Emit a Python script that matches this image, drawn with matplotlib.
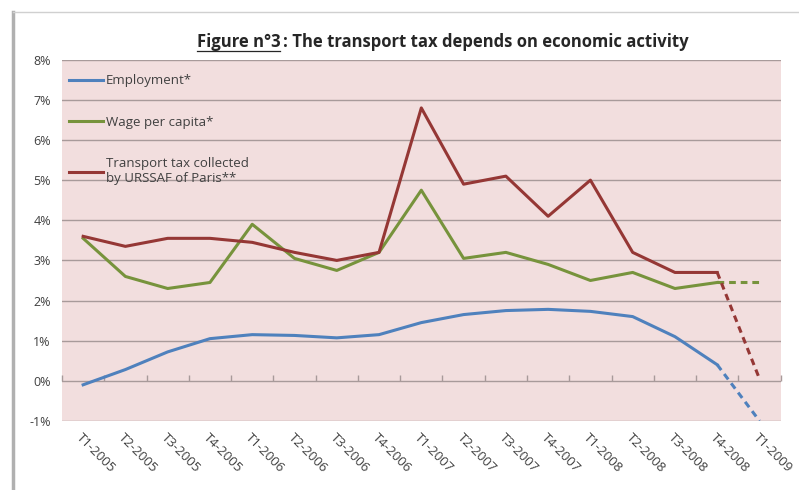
import numpy as np
import matplotlib.pyplot as plt
from matplotlib.lines import Line2D

quarters = ["T1-2005", "T2-2005", "T3-2005", "T4-2005",
            "T1-2006", "T2-2006", "T3-2006", "T4-2006",
            "T1-2007", "T2-2007", "T3-2007", "T4-2007",
            "T1-2008", "T2-2008", "T3-2008", "T4-2008", "T1-2009"]

# % growth, last point (T1-2009) is a forecast -> dashed
employment = [-0.1, 0.28, 0.72, 1.05, 1.15, 1.13, 1.07, 1.15,
              1.45, 1.65, 1.75, 1.78, 1.73, 1.6, 1.1, 0.4, -1.0]
wage = [3.55, 2.6, 2.3, 2.45, 3.9, 3.05, 2.75, 3.2,
        4.75, 3.05, 3.2, 2.9, 2.5, 2.7, 2.3, 2.45, 2.45]
transport_tax = [3.6, 3.35, 3.55, 3.55, 3.45, 3.2, 3.0, 3.2,
                 6.8, 4.9, 5.1, 4.1, 5.0, 3.2, 2.7, 2.7, 0.05]

y_ticks = [-1, 0, 1, 2, 3, 4, 5, 6, 7, 8]

plt.rcParams['font.family'] = ['Open Sans', 'DejaVu Sans']

fig = plt.figure(figsize=(7.99, 4.90), dpi=100)
ax = fig.add_axes([0.0776, 0.141, 0.8994, 0.737])
ax.set_facecolor('#F2DEDE')

series = [
    (employment, '#4F81BD', 'Employment*'),
    (wage, '#77933C', 'Wage per capita*'),
    (transport_tax, '#953735', 'Transport tax collected\nby URSSAF of Paris**'),
]
x = np.arange(len(quarters))
for vals, col, lab in series:
    ax.plot(x[:-1], vals[:-1], color=col, lw=2.2, label=lab, solid_joinstyle='round')
    ax.plot(x[-2:], vals[-2:], color=col, lw=2.2, ls=(0, (2.2, 1.6)))

ax.set_xlim(-0.5, len(quarters) - 0.5)
ax.set_ylim(-1, 8)
ax.set_yticks(y_ticks)
ax.set_yticklabels([f"{v}%" for v in y_ticks], fontsize=9, color='#404040')
ax.grid(axis='y', color='#A89A9A', lw=1)
ax.set_axisbelow(True)
ax.tick_params(axis='y', length=0, pad=8)

ax.set_xticks(x)
ax.set_xticklabels(quarters, rotation=-45, ha='left', va='top',
                   rotation_mode='anchor', fontsize=9.5, color='#404040')
ax.tick_params(axis='x', length=0, pad=7)
for s in ax.spines.values():
    s.set_visible(False)

# small tick marks on the 0% line between categories
sec = ax.secondary_xaxis(1 / 9)
sec.set_xticks(np.arange(-0.5, len(quarters), 1.0))
sec.set_xticklabels([])
sec.tick_params(direction='in', length=4, color='#A89A9A', width=1)
sec.spines['bottom'].set_visible(False)

leg = ax.legend(loc='upper left', frameon=False, fontsize=9.5,
                handlelength=2.6, handletextpad=0.2, labelspacing=2.15,
                borderaxespad=0.3, bbox_to_anchor=(-0.003, 0.985))
for t in leg.get_texts():
    t.set_color('#404040')

# title with underlined "Figure n°3"
t1 = fig.text(0.246, 0.905, "Figure n°3", fontsize=12, fontweight='bold',
              color='#262626', ha='left', va='baseline')
fig.canvas.draw()
bb = t1.get_window_extent().transformed(fig.transFigure.inverted())
fig.add_artist(Line2D([bb.x0, bb.x1], [0.896, 0.896], color='#262626', lw=0.9))
fig.text(bb.x1 + 0.004, 0.905, ": The transport tax depends on economic activity",
         fontsize=12, fontweight='bold', color='#262626', ha='left', va='baseline')

# gray frame left and top
fig.add_artist(Line2D([0.016, 0.016], [0.0, 0.975], color='#B0B0B0', lw=2.5))
fig.add_artist(Line2D([0.016, 1.0], [0.975, 0.975], color='#D0D0D0', lw=1))

fig.savefig('out.png', dpi=100)
